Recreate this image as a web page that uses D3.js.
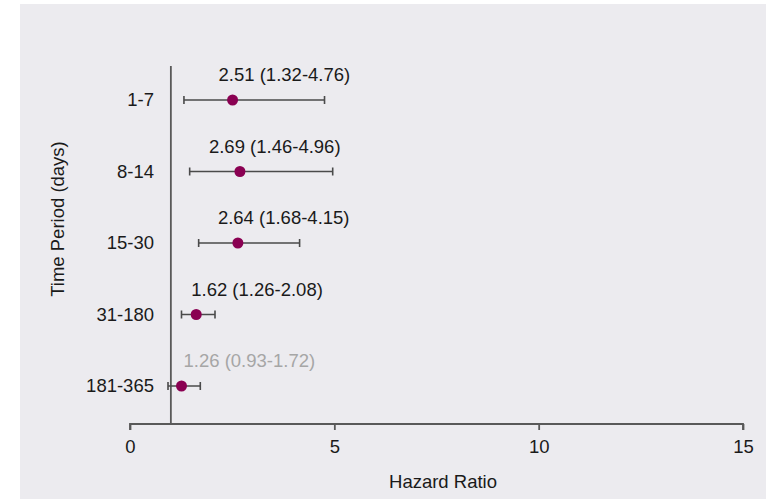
<!DOCTYPE html>
<html>
<head>
<meta charset="utf-8">
<script src="https://cdn.jsdelivr.net/npm/d3@7"></script>
<style>
  html, body { margin: 0; padding: 0; background: #ffffff; }
  svg { display: block; font-family: "Liberation Sans", Arial, sans-serif; }
</style>
</head>
<body>
<svg id="chart" width="766" height="499"></svg>
<script>
// Hazard ratios with 95% confidence intervals by time period
const periods = ["1-7", "8-14", "15-30", "31-180", "181-365"];
const hazardRatio = [2.51, 2.69, 2.64, 1.62, 1.26];
const ciLower = [1.32, 1.46, 1.68, 1.26, 0.93];
const ciUpper = [4.76, 4.96, 4.15, 2.08, 1.72];
const significant = [true, true, true, true, false];
const xTicks = [0, 5, 10, 15];

// Horizontal nudge of each value label relative to its point (px)
const labelNudge = [-14, -31, -20, -5, 2];

const svg = d3.select("#chart");
const W = 766, H = 499;
const FS = 18.5;

// Panel background
svg.append("rect").attr("x", 20).attr("y", 4).attr("width", W - 20).attr("height", H - 4)
  .attr("fill", "#ecebef");

const x = d3.scaleLinear().domain([0, 15]).range([130, 743]);
const y = d3.scalePoint().domain(periods).range([100, 386]);
const axisY = 424;

// X axis
const xAxis = svg.append("g").attr("transform", `translate(0,${axisY})`)
  .call(d3.axisBottom(x).tickValues(xTicks).tickSize(6).tickPadding(10).tickFormat(d3.format("d")));
xAxis.select(".domain").attr("stroke", "#595959").attr("stroke-width", 1.8)
  .attr("d", `M${x(0)},6V0H${x(15)}V6`);
xAxis.selectAll(".tick line").attr("stroke", "#595959").attr("stroke-width", 1.8);
xAxis.selectAll(".tick text").attr("fill", "#1a1a1a").attr("font-size", FS)
  .attr("font-family", "Liberation Sans, Arial, sans-serif");

// Reference line at HR = 1
svg.append("line").attr("x1", x(1)).attr("x2", x(1)).attr("y1", 66).attr("y2", axisY)
  .attr("stroke", "#595959").attr("stroke-width", 1.8);

// Row labels
svg.append("g").selectAll("text").data(periods).join("text")
  .attr("x", 154).attr("y", d => y(d)).attr("dy", "0.35em")
  .attr("text-anchor", "end").attr("font-size", FS).attr("fill", "#1a1a1a")
  .text(d => d);

// Confidence interval bars with caps
const rows = periods.map((p, i) => ({ p, hr: hazardRatio[i], lo: ciLower[i], hi: ciUpper[i], sig: significant[i], nudge: labelNudge[i] }));
const g = svg.append("g");
g.selectAll("line.ci").data(rows).join("line").attr("class", "ci")
  .attr("x1", d => x(d.lo)).attr("x2", d => x(d.hi))
  .attr("y1", d => y(d.p)).attr("y2", d => y(d.p))
  .attr("stroke", "#4a4a4a").attr("stroke-width", 1.6);
["lo", "hi"].forEach(k => {
  g.selectAll(`line.cap-${k}`).data(rows).join("line").attr("class", `cap-${k}`)
    .attr("x1", d => x(d[k])).attr("x2", d => x(d[k]))
    .attr("y1", d => y(d.p) - 4).attr("y2", d => y(d.p) + 4)
    .attr("stroke", "#4a4a4a").attr("stroke-width", 1.6);
});

// Point estimates
g.selectAll("circle").data(rows).join("circle")
  .attr("cx", d => x(d.hr)).attr("cy", d => y(d.p)).attr("r", 5.5)
  .attr("fill", "#8a0052");

// Value labels
const fmt = d3.format(".2f");
g.selectAll("text.val").data(rows).join("text").attr("class", "val")
  .attr("x", d => x(d.hr) + d.nudge).attr("y", d => y(d.p) - 19)
  .attr("font-size", FS).attr("fill", d => d.sig ? "#1a1a1a" : "#a6a6a6")
  .text(d => `${fmt(d.hr)} (${fmt(d.lo)}-${fmt(d.hi)})`);

// Axis titles
svg.append("text").attr("x", 443).attr("y", 488).attr("text-anchor", "middle")
  .attr("font-size", FS).attr("fill", "#1a1a1a").text("Hazard Ratio");
svg.append("text").attr("transform", "translate(64,219) rotate(-90)")
  .attr("text-anchor", "middle").attr("font-size", FS).attr("fill", "#1a1a1a")
  .text("Time Period (days)");
</script>
</body>
</html>
